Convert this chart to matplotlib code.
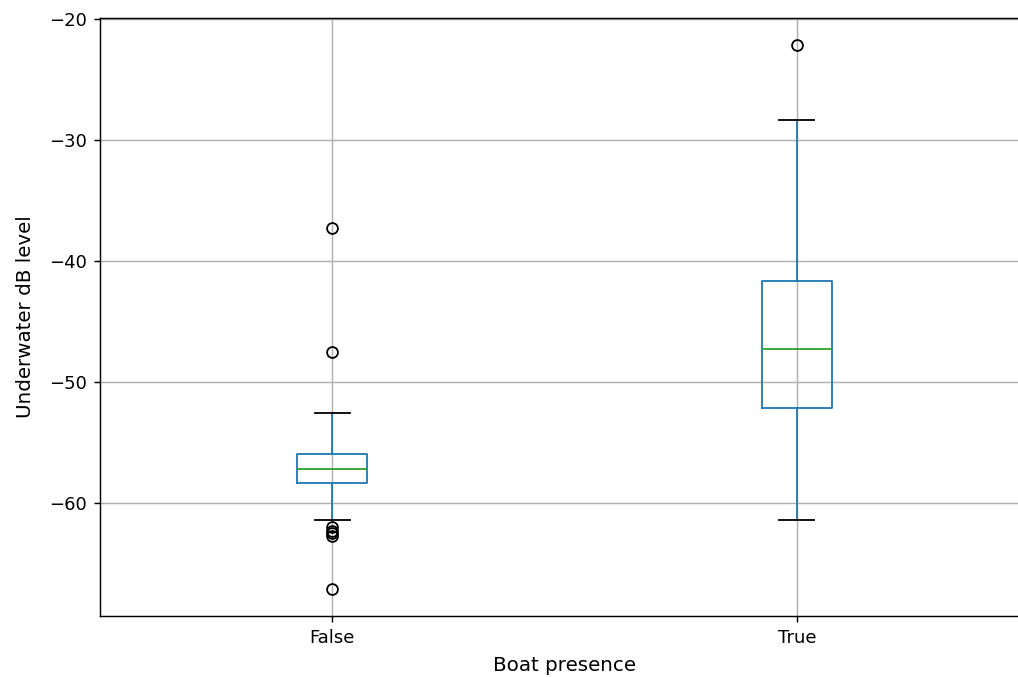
import matplotlib
matplotlib.use("Agg")
import matplotlib.pyplot as plt

# Box statistics (Underwater dB level by boat presence)
labels = ['False', 'True']
medians = [-57.2, -47.3]
q1 = [-58.35, -52.2]
q3 = [-55.95, -41.65]
whisker_low = [-61.4, -61.4]
whisker_high = [-52.6, -28.4]
fliers = [
    [-37.3, -47.5, -62.0, -62.3, -62.5, -62.7, -67.1],
    [-22.2],
]

stats = []
for i, lab in enumerate(labels):
    stats.append({
        'label': lab,
        'med': medians[i],
        'q1': q1[i],
        'q3': q3[i],
        'whislo': whisker_low[i],
        'whishi': whisker_high[i],
        'fliers': fliers[i],
    })

fig = plt.figure(figsize=(1018 / 130, 677 / 130), dpi=130)
# the original image is cropped on the right, so the axes run past the edge
ax = fig.add_axes([100 / 1018, 1 - 616 / 677, 929 / 1018, 598 / 677])

ax.bxp(
    stats,
    boxprops=dict(color='#1f77b4'),
    whiskerprops=dict(color='#1f77b4'),
    capprops=dict(color='black'),
    medianprops=dict(color='#2ca02c'),
    flierprops=dict(marker='o', markerfacecolor='none', markeredgecolor='black'),
)

ax.set_xlim(0.5, 2.5)
ax.grid(True)
ax.set_axisbelow(True)
ax.set_xlabel("Boat presence", fontsize=11, labelpad=5)
ax.set_ylabel("Underwater dB level", fontsize=11, labelpad=8)

fig.savefig("out.png", dpi=130)
